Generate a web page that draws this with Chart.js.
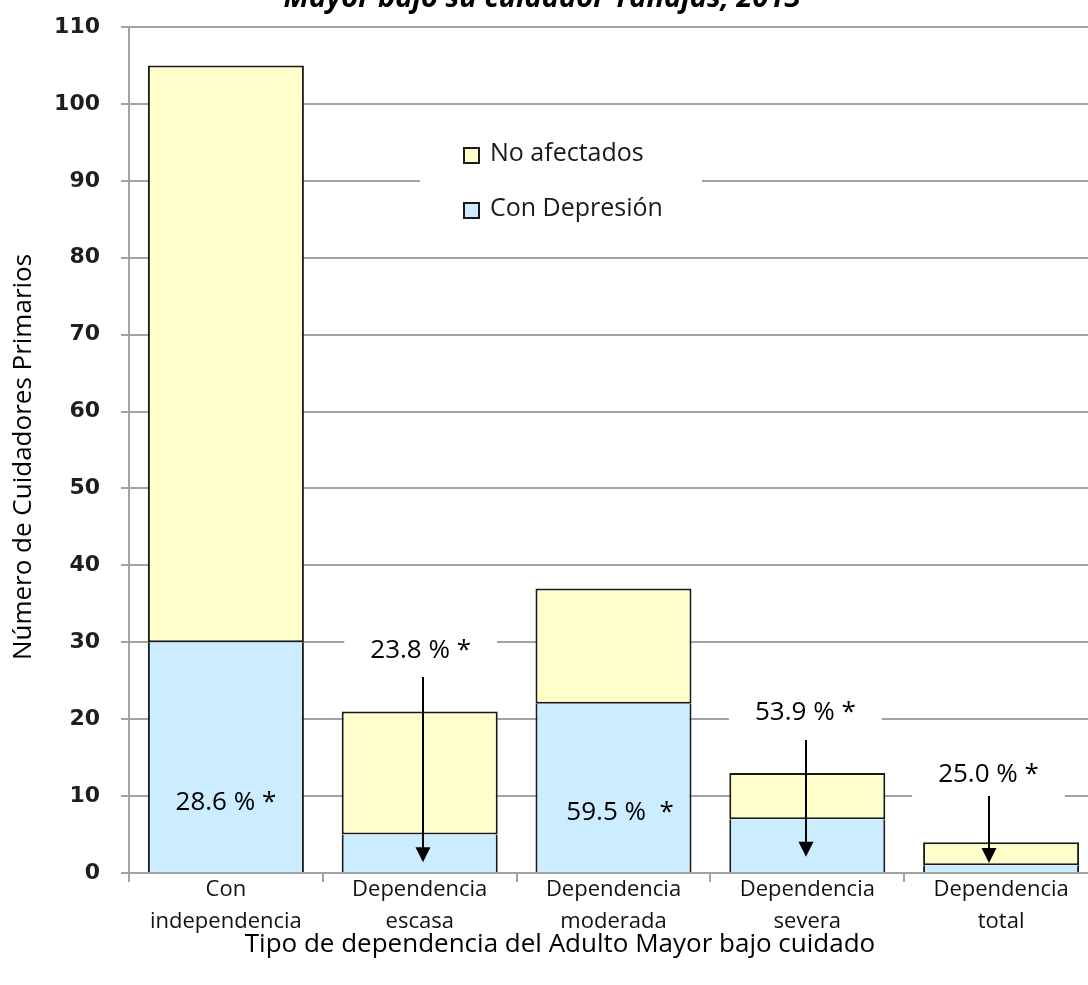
<!DOCTYPE html>
<html>
<head>
<meta charset="utf-8">
<script src="https://cdn.jsdelivr.net/npm/chart.js@4.4.1/dist/chart.umd.min.js"></script>
<style>
  html, body { margin: 0; padding: 0; background: #fff; overflow: hidden; }
  #wrap { width: 1100px; height: 985px; }
</style>
</head>
<body>
<div id="wrap"><canvas id="c" width="1100" height="985"></canvas></div>
<script>
// Categories (multi-line tick labels)
const categories = [
  ['Con', 'independencia'],
  ['Dependencia', 'escasa'],
  ['Dependencia', 'moderada'],
  ['Dependencia', 'severa'],
  ['Dependencia', 'total']
];

// Number of primary caregivers per dependency type
const conDepresion = [30, 5, 22, 7, 1];
const noAfectados  = [75, 16, 15, 6, 3];

// Value axis
const yMin = 0;
const yMax = 110;
const yStep = 10;

// Percentage notes (text, category position, value position, white backing box)
const pctText  = ['28.6 % *', '23.8 % *', '59.5 %  *', '53.9 % *', '25.0 % *'];
const pctCat   = [0.0, 1.005, 2.034, 2.99, 3.935];
const pctValue = [9.2, 28.9, 7.8, 20.8, 12.8];
const pctBoxed = [false, true, false, true, true];

// Arrows pointing into the depression segment (category position, start value, tip value)
const arrowCat  = [1.015, 2.995, 3.94];
const arrowFrom = [25.5, 17.3, 10.0];
const arrowTo   = [1.4, 2.1, 1.3];

const titleLine = 'Mayor bajo su cuidador Yanajas, 2013';
const yTitle = 'Número de Cuidadores Primarios';
const xTitle = 'Tipo de dependencia del Adulto Mayor bajo cuidado';

const BLUE = '#CCECFF';
const YELLOW = '#FFFFCC';
const GRID = '#a3a3a3';
const EDGE = '#1a1a1a';

function catPixel(xs, c) {
  const p0 = xs.getPixelForValue(0);
  const p1 = xs.getPixelForValue(1);
  return p0 + (p1 - p0) * c;
}

const decorations = {
  id: 'decorations',
  beforeDatasetsDraw(chart) {
    const { ctx, chartArea, scales } = chart;
    const xs = scales.x, ys = scales.y;
    ctx.save();
    ctx.fillStyle = '#ffffff';
    // legend backing
    ctx.fillRect(chartArea.left + 291, chartArea.top + 98, 282, 110);
    // backing boxes behind the percentage notes
    ctx.font = "26px 'Open Sans'";
    pctText.forEach((t, i) => {
      if (!pctBoxed[i]) return;
      const cx = catPixel(xs, pctCat[i]);
      const cy = ys.getPixelForValue(pctValue[i]);
      const w = ctx.measureText(t).width + 52;
      ctx.fillRect(cx - w / 2, cy - 26, w, 52);
    });
    ctx.restore();
  },
  afterDatasetsDraw(chart) {
    const { ctx, chartArea, scales } = chart;
    const xs = scales.x, ys = scales.y;
    ctx.save();

    // legend (top entry first)
    const items = [chart.data.datasets[1], chart.data.datasets[0]];
    ctx.font = "25px 'Open Sans'";
    ctx.textBaseline = 'middle';
    ctx.textAlign = 'left';
    items.forEach((ds, i) => {
      const bx = chartArea.left + 335;
      const by = chartArea.top + 121 + i * 55;
      ctx.fillStyle = ds.backgroundColor;
      ctx.fillRect(bx, by, 15, 15);
      ctx.strokeStyle = EDGE;
      ctx.lineWidth = 2;
      ctx.strokeRect(bx, by, 15, 15);
      ctx.fillStyle = '#1a1a1a';
      ctx.fillText(ds.label, bx + 26, by + 6);
    });

    // percentage notes
    ctx.font = "26px 'Open Sans'";
    ctx.textAlign = 'center';
    ctx.textBaseline = 'middle';
    ctx.fillStyle = '#000';
    pctText.forEach((t, i) => {
      ctx.fillText(t, catPixel(xs, pctCat[i]), ys.getPixelForValue(pctValue[i]));
    });

    // arrows
    ctx.strokeStyle = '#000';
    ctx.fillStyle = '#000';
    ctx.lineWidth = 2;
    arrowCat.forEach((c, i) => {
      const x = Math.round(catPixel(xs, c));
      const y0 = ys.getPixelForValue(arrowFrom[i]);
      const y1 = ys.getPixelForValue(arrowTo[i]);
      ctx.beginPath();
      ctx.moveTo(x, y0);
      ctx.lineTo(x, y1 - 12);
      ctx.stroke();
      ctx.beginPath();
      ctx.moveTo(x - 7.5, y1 - 15);
      ctx.lineTo(x + 7.5, y1 - 15);
      ctx.lineTo(x, y1);
      ctx.closePath();
      ctx.fill();
    });

    // chart title (second line, top edge)
    ctx.font = "italic bold 29px 'Open Sans'";
    ctx.textAlign = 'center';
    ctx.textBaseline = 'alphabetic';
    ctx.fillStyle = '#000';
    ctx.fillText(titleLine, 542, 7);

    // axis titles
    ctx.font = "26px 'Open Sans'";
    ctx.fillStyle = '#000';
    ctx.textBaseline = 'middle';
    ctx.fillText(xTitle, 560, 945);
    ctx.translate(24, 457);
    ctx.rotate(-Math.PI / 2);
    ctx.fillText(yTitle, 0, 0);
    ctx.restore();
  }
};

new Chart(document.getElementById('c'), {
  type: 'bar',
  data: {
    labels: categories,
    datasets: [
      { label: 'Con Depresión', data: conDepresion, backgroundColor: BLUE,
        borderColor: EDGE, borderWidth: { top: 0, left: 2, right: 2, bottom: 0 }, borderSkipped: false },
      { label: 'No afectados', data: noAfectados, backgroundColor: YELLOW,
        borderColor: EDGE, borderWidth: 2, borderSkipped: false }
    ]
  },
  options: {
    responsive: false,
    animation: false,
    layout: { padding: { left: 0, top: 27, right: 2, bottom: 0 } },
    datasets: { bar: { barPercentage: 0.805, categoryPercentage: 1 } },
    plugins: { legend: { display: false }, tooltip: { enabled: false }, title: { display: false } },
    scales: {
      x: {
        stacked: true,
        grid: { drawOnChartArea: false, drawTicks: true, tickLength: 9, color: GRID, lineWidth: 2, offset: true },
        border: { color: GRID, width: 2 },
        ticks: {
          font: { family: "'Open Sans'", size: 22, lineHeight: 1.45 },
          color: '#111', padding: -8, maxRotation: 0, autoSkip: false
        },
        afterFit(s) { s.height = 112; }
      },
      y: {
        stacked: true,
        min: yMin, max: yMax,
        grid: { color: GRID, lineWidth: 2, tickLength: 8 },
        border: { color: GRID, width: 2 },
        ticks: {
          stepSize: yStep,
          font: { family: "'DejaVu Sans'", size: 22, weight: 'bold' },
          color: '#1e1e1e', padding: 21
        },
        afterFit(s) { s.width = 129; s.paddingTop = 12; s.paddingBottom = 12; }
      }
    }
  },
  plugins: [decorations]
});
</script>
</body>
</html>
